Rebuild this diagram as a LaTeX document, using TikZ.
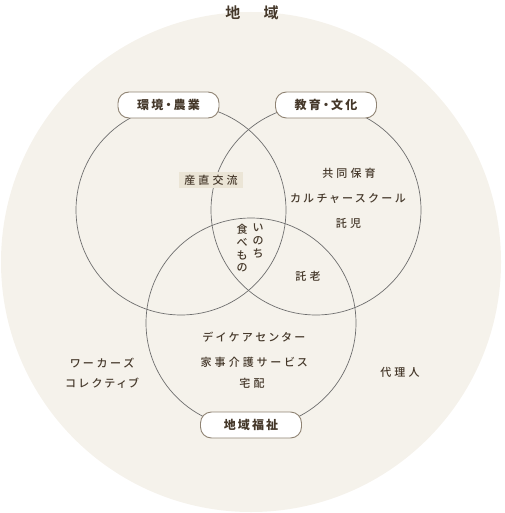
\documentclass[tikz,border=0pt]{standalone}
\usepackage{fontspec}
\newfontfamily\jp[LetterSpace=28,RawFeature=+palt,UprightFont={* Medium},BoldFont={* Bold}]{Noto Sans CJK JP}
\newfontfamily\jplab[LetterSpace=18,RawFeature=+palt]{Noto Sans CJK JP}
\definecolor{bg}{HTML}{F5F2EB}
\definecolor{ink}{HTML}{45382A}
\definecolor{ring}{HTML}{6E6E6E}
\definecolor{edge}{HTML}{8F8373}
\definecolor{hl}{HTML}{EBE5D6}
\tikzset{
  ringline/.style={draw=ring, line width=0.7pt},
  tag/.style={draw=edge, fill=white, line width=0.9pt, rounded corners=11pt,
    minimum width=101pt, minimum height=26pt, inner sep=0pt, text=ink,
    font=\jplab\bfseries\fontsize{12}{14}\selectfont},
  txt/.style={inner sep=0pt, text=ink, font=\jp\fontsize{11}{13}\selectfont},
  vtxt/.style={inner sep=0pt, text=ink, align=center, anchor=north,
    font=\jp\fontsize{11}{12.8}\selectfont},
  ttl/.style={inner sep=0pt, text=ink, font=\jp\bfseries\fontsize{15}{17}\selectfont}
}
\begin{document}
\begin{tikzpicture}[x=1pt,y=-1pt]
\useasboundingbox (0,0) rectangle (504,513);
\fill[bg] (251,262) circle[radius=250];
\draw[ringline] (181,210) circle[radius=105];
\draw[ringline] (316,210) circle[radius=105];
\draw[ringline] (251,323) circle[radius=105];
\node[ttl] (title) at (252,13) {地　域};
\node[tag] (env) at (168.5,105) {環境・農業};
\node[tag] (edu) at (326,105) {教育・文化};
\node[tag] (wel) at (251,425) {地域福祉};
\node[txt, fill=hl, minimum width=64pt, minimum height=16pt] (sanchoku) at (211,180) {産直交流};
\node[vtxt] (inochi) at (258,224) {い\\の\\ち};
\node[vtxt] (tabemono) at (242,224) {食\\べ\\も\\の};
\node[txt] (hoiku) at (349,173) {共同保育};
\node[txt] (culture) at (348,199) {カルチャースクール};
\node[txt] (takuji) at (348.5,223) {託児};
\node[txt] (takuro) at (308,276) {託老};
\node[txt] (daycare) at (254,337) {デイケアセンター};
\node[txt] (kaji) at (254,362) {家事介護サービス};
\node[txt] (takuhai) at (252,383) {宅配};
\node[txt] (workers) at (102,363) {ワーカーズ};
\node[txt] (collective) at (102,383) {コレクティブ};
\node[txt] (dairi) at (400,372) {代理人};
\end{tikzpicture}
\end{document}
